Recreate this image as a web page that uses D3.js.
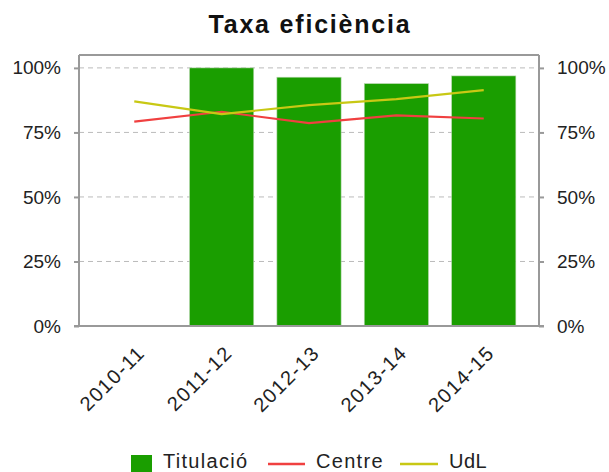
<!DOCTYPE html>
<html lang="ca">
<head>
    <meta charset="UTF-8">
    <title>Taxa eficiència</title>
    <script src="https://d3js.org/d3.v7.min.js"></script>
    <style>
        body {
            margin: 0;
            background: #fff;
        }
        svg text {
            font-family: "Liberation Sans", Arial, sans-serif;
            fill: #222;
        }
    </style>
</head>
<body>
    <div id="chart"></div>

    <script>
        // data
        const years = ["2010-11", "2011-12", "2012-13", "2013-14", "2014-15"];
        const titulacio = [null, 100, 96.4, 93.9, 96.9];
        const centre = [79.2, 83.0, 78.6, 81.6, 80.4];
        const udl = [87.0, 82.1, 85.6, 87.9, 91.4];
        const yTicks = [0, 25, 50, 75, 100];

        const width = 609;
        const height = 472;
        const margin = { top: 55, right: 70, bottom: 146, left: 79 };

        const green = "#1a9e00";
        const red = "#f04040";
        const yellow = "#c8c814";
        const axisColor = "#999";

        const svg = d3.select("#chart")
            .append("svg")
            .attr("width", width)
            .attr("height", height);

        const x = d3.scaleBand()
            .domain(years)
            .range([margin.left, width - margin.right])
            .padding(0.265);

        const y = d3.scaleLinear()
            .domain([0, 105])
            .range([height - margin.bottom, margin.top]);

        // title
        svg.append("text")
            .attr("x", 310)
            .attr("y", 33)
            .attr("text-anchor", "middle")
            .attr("font-size", "25px")
            .attr("font-weight", "bold")
            .attr("letter-spacing", "1.8px")
            .style("fill", "#111")
            .text("Taxa eficiència");

        // grid
        svg.append("g")
            .selectAll("line")
            .data(yTicks.filter(d => d > 0))
            .join("line")
            .attr("x1", margin.left)
            .attr("x2", width - margin.right)
            .attr("y1", d => y(d))
            .attr("y2", d => y(d))
            .attr("stroke", "#bbb")
            .attr("stroke-dasharray", "5,4");

        // bars
        svg.append("g")
            .selectAll("rect")
            .data(years.map((yr, i) => ({ yr, v: titulacio[i] })).filter(d => d.v != null))
            .join("rect")
            .attr("x", d => x(d.yr))
            .attr("width", x.bandwidth())
            .attr("y", d => y(d.v))
            .attr("height", d => y(0) - y(d.v))
            .attr("fill", green)
            .attr("stroke", "#b8d8b0")
            .attr("stroke-width", 0.6);

        // lines
        const line = d3.line()
            .x((d, i) => x(years[i]) + x.bandwidth() / 2)
            .y(d => y(d));

        svg.append("path")
            .datum(centre)
            .attr("fill", "none")
            .attr("stroke", red)
            .attr("stroke-width", 2.2)
            .attr("d", line);

        svg.append("path")
            .datum(udl)
            .attr("fill", "none")
            .attr("stroke", yellow)
            .attr("stroke-width", 2.2)
            .attr("d", line);

        // axes
        const fmt = d => d + "%";
        const yLeft = svg.append("g")
            .attr("transform", `translate(${margin.left},0)`)
            .call(d3.axisLeft(y).tickValues(yTicks).tickFormat(fmt).tickSize(5).tickPadding(13));

        const yRight = svg.append("g")
            .attr("transform", `translate(${width - margin.right},0)`)
            .call(d3.axisRight(y).tickValues(yTicks).tickFormat(fmt).tickSize(5).tickPadding(13));

        [yLeft, yRight].forEach(g => {
            g.select(".domain").attr("stroke", axisColor).attr("stroke-width", 2)
                .attr("d", `M0,${y(0)}V${margin.top}`);
            g.selectAll(".tick line").attr("stroke", axisColor).attr("stroke-width", 2);
            g.selectAll(".tick text").attr("font-size", "19px").style("fill", "#222");
        });

        // top border
        svg.append("line")
            .attr("x1", margin.left)
            .attr("x2", width - margin.right)
            .attr("y1", margin.top)
            .attr("y2", margin.top)
            .attr("stroke", axisColor)
            .attr("stroke-width", 2);

        // bottom axis
        const xAxis = svg.append("g")
            .attr("transform", `translate(0,${y(0)})`)
            .call(d3.axisBottom(x).tickSize(0).tickPadding(0));

        xAxis.select(".domain").attr("stroke", axisColor).attr("stroke-width", 2)
            .attr("d", `M${margin.left - 5},0H${width - margin.right + 5}`);

        xAxis.selectAll(".tick text")
            .attr("font-size", "20px")
            .attr("letter-spacing", "1.5px")
            .attr("text-anchor", "end")
            .attr("dy", 0)
            .attr("transform", "translate(12,28) rotate(-45)")
            .style("fill", "#222");

        // legend
        const legend = svg.append("g").attr("transform", "translate(0,463)");

        legend.append("rect")
            .attr("x", 131)
            .attr("y", -8)
            .attr("width", 21)
            .attr("height", 21)
            .attr("fill", green);
        legend.append("text")
            .attr("x", 163)
            .attr("y", 5)
            .attr("font-size", "20px")
            .attr("letter-spacing", "1.3px")
            .text("Titulació");

        legend.append("line")
            .attr("x1", 268).attr("x2", 305)
            .attr("y1", 1).attr("y2", 1)
            .attr("stroke", red).attr("stroke-width", 2.5);
        legend.append("text")
            .attr("x", 316)
            .attr("y", 5)
            .attr("font-size", "20px")
            .attr("letter-spacing", "1.3px")
            .text("Centre");

        legend.append("line")
            .attr("x1", 400).attr("x2", 438)
            .attr("y1", 1).attr("y2", 1)
            .attr("stroke", yellow).attr("stroke-width", 2.5);
        legend.append("text")
            .attr("x", 449)
            .attr("y", 5)
            .attr("font-size", "20px")
            .attr("letter-spacing", "0.5px")
            .text("UdL");
    </script>
</body>
</html>
